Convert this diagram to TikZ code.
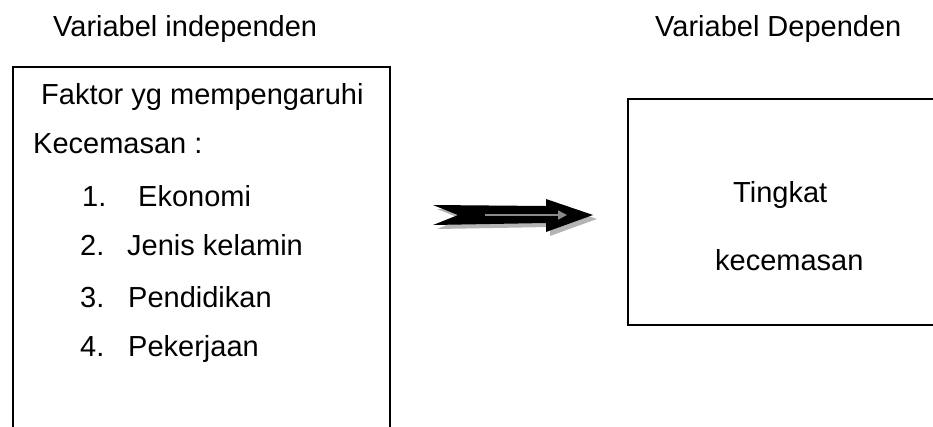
\documentclass[tikz,border=0pt]{standalone}
\usepackage{fontspec}
\setmainfont{Liberation Sans}
\usepackage{tikz}
\usetikzlibrary{arrows.meta,positioning,calc}
\definecolor{shadowgrey}{HTML}{B4B4B4}
\definecolor{innergrey}{HTML}{8A8A8A}

\begin{document}
\begin{tikzpicture}[x=1pt, y=-1pt, every node/.style={font=\fontsize{29}{35}\selectfont, inner sep=0pt},
  txt/.style={anchor=base west},
  frame/.style={draw, line width=1.5pt, anchor=north west, minimum width=#1},
  inarr/.style={-{Triangle[length=9pt, width=9pt]}, innergrey, line width=1.6pt}]
\useasboundingbox (0,0) rectangle (933,426);
% boxes (cut off by the page edge)
\node[frame=377pt, minimum height=380pt] (indep) at (12,66) {};
\node[frame=330pt, minimum height=226pt] (dep) at (627,98) {};
% headings
\node[txt] (hindep) at (53,36) {Variabel independen};
\node[txt] (hdep) at (655,36) {Variabel Dependen};
% left box text
\node[txt] (fak) at (41,104) {Faktor yg mempengaruhi};
\node[txt] (kec) at (33,153) {Kecemasan :};
\node[txt] (n1) at (82,206) {1.};  \node[txt] (eko) at (138,206) {Ekonomi};
\node[txt] (n2) at (80,255) {2.};  \node[txt] (jen) at (127,255) {Jenis kelamin};
\node[txt] (n3) at (80,307) {3.};  \node[txt] (pen) at (128,307) {Pendidikan};
\node[txt] (n4) at (80,356) {4.};  \node[txt] (pek) at (128,356) {Pekerjaan};
% right box text
\node[txt] (ting) at (733,202) {Tingkat};
\node[txt] (kcm) at (715,270) {kecemasan};
% block arrow with shadow
\coordinate (atail) at (433,215);
\foreach \dx/\dy/\col in {4/4/shadowgrey, 0/0/black}
  \fill[\col] ($(atail)+(\dx,\dy)$) ++(0,-10) -- ++(25,10) -- ++(-25,10) -- ++(113,-2)
    -- ++(0,9) -- ++(47,-17) -- ++(-47,-16) -- ++(0,7) -- cycle;
\coordinate (itail) at (485,215);
\coordinate (itip) at (567,215);
\draw[inarr] (itail) -- (itip);
\end{tikzpicture}
\end{document}
